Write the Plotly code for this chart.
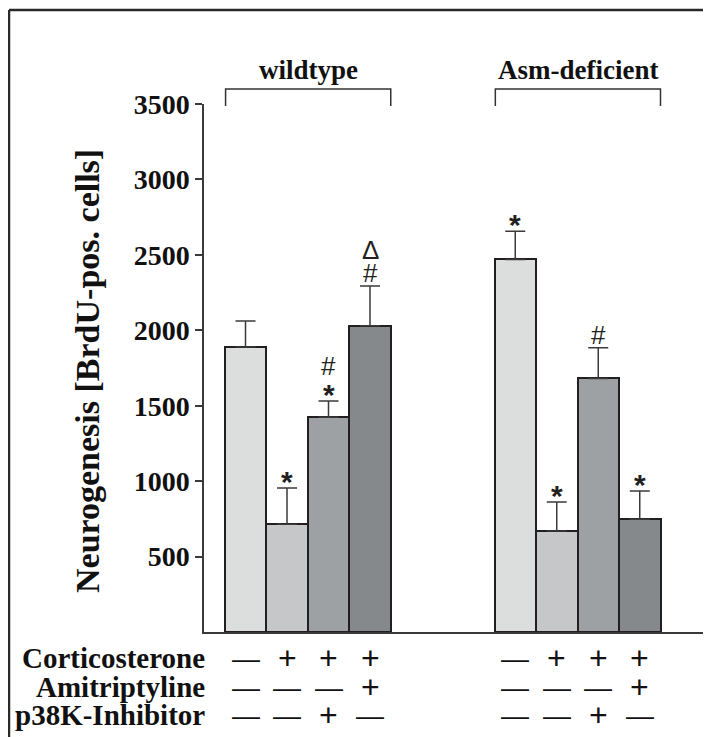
import plotly.graph_objects as go

# ---------------- data ----------------
groups = ["wildtype", "Asm-deficient"]
treatments = ["Control", "Corticosterone", "Corticosterone + p38K-Inhibitor", "Corticosterone + Amitriptyline"]
wt_values = [1890, 714, 1423, 2030]
wt_errors = [172, 240, 108, 263]
asm_values = [2470, 669, 1681, 747]
asm_errors = [187, 192, 203, 187]
wt_marks = [[], ["*"], ["*", "#"], ["#", "Δ"]]
asm_marks = [["*"], ["*"], ["#"], ["*"]]
row_labels = ["Corticosterone", "Amitriptyline", "p38K-Inhibitor"]
corticosterone = ["—", "+", "+", "+"]
amitriptyline = ["—", "—", "—", "+"]
p38k_inhibitor = ["—", "—", "+", "—"]
y_ticks = [500, 1000, 1500, 2000, 2500, 3000, 3500]
y_title = "Neurogenesis [BrdU-pos. cells]"

# ---------------- styling ----------------
OFF = 8                      # page body margin
W, H = 711 - OFF, 737 - OFF  # figure size so the page does not overflow
PX0, PX1, PY0, PY1 = 204, 708, 104, 632   # plot area in page pixels
L, R, T, B = PX0 - OFF, W - (PX1 - OFF), PY0 - OFF, H - (PY1 - OFF)
PW, PH = W - L - R, H - T - B
UNIT = 41.5  # px per bar slot
GROUP_OFFSET = 6.5
bar_colors = ["#dcdddd", "#c6c7c9", "#9ea1a4", "#86898c"]
ink = "#231f20"
serif = "Liberation Serif"
sans = "Liberation Sans"


def xp(px):
    return (px - OFF - L) / PW


def yp(py):
    return (H - B - (py - OFF)) / PH


group_values = [wt_values, asm_values]
group_errors = [wt_errors, asm_errors]
group_marks = [wt_marks, asm_marks]
table_rows = [corticosterone, amitriptyline, p38k_inhibitor]

xs, vals, errs, cols, names = [], [], [], [], []
for gi, g in enumerate(groups):
    for ti, t in enumerate(treatments):
        xs.append(gi * GROUP_OFFSET + ti + 1)
        vals.append(group_values[gi][ti])
        errs.append(group_errors[gi][ti])
        cols.append(bar_colors[ti])
        names.append(f"{g}: {t}")

fig = go.Figure()
fig.add_trace(go.Bar(
    x=xs, y=vals, width=1.0,
    marker=dict(color=cols, line=dict(color=ink, width=2)),
    error_y=dict(type="data", symmetric=False, array=errs, arrayminus=[0] * len(errs),
                 color="#3a3a3a", thickness=1.5, width=10),
    hovertext=names, showlegend=False,
))

annotations = []
shapes = []

# significance markers
mark_font = {"*": ("<b>*</b>", 30, -3), "#": ("#", 26, 3), "Δ": ("Δ", 26, 4)}
for gi in range(len(groups)):
    for ti in range(len(treatments)):
        x = gi * GROUP_OFFSET + ti + 1
        top = group_values[gi][ti] + group_errors[gi][ti]
        for k, m in enumerate(group_marks[gi][ti]):
            txt, size, adj = mark_font[m]
            annotations.append(dict(
                x=x, y=top, xref="x", yref="y", text=txt, showarrow=False,
                yanchor="middle", yshift=10 + 22 * k + adj,
                font=dict(family=sans, size=size, color=ink),
            ))

# group labels + brackets
for gi, g in enumerate(groups):
    x_first = gi * GROUP_OFFSET + 1
    x_last = gi * GROUP_OFFSET + len(treatments)
    x0, x1 = x_first - 0.48, x_last + 0.5
    y_top, y_leg = yp(89), yp(106)
    shapes.append(dict(type="path", xref="x", yref="paper",
                       path=f"M {x0} {y_leg} L {x0} {y_top} L {x1} {y_top} L {x1} {y_leg}",
                       line=dict(color="#333333", width=1.5)))
    annotations.append(dict(x=(x0 + x1) / 2, y=yp(70), xref="x", yref="paper", text=f"<b>{g}</b>",
                            showarrow=False, yanchor="middle",
                            font=dict(family=serif, size=27, color="#111111")))

# treatment table
row_y = [658, 687, 715]
for ri, lab in enumerate(row_labels):
    annotations.append(dict(x=xp(207), y=yp(row_y[ri]), xref="paper", yref="paper",
                            text=f"<b>{lab}</b>", showarrow=False, xanchor="right", yanchor="middle",
                            font=dict(family=serif, size=29, color="#111111")))
    for gi in range(len(groups)):
        for ti in range(len(treatments)):
            s = table_rows[ri][ti]
            annotations.append(dict(x=gi * GROUP_OFFSET + ti + 1, y=yp(row_y[ri]), xref="x", yref="paper",
                                    text=s, showarrow=False, yanchor="middle",
                                    font=dict(family=sans, size=32 if s == "+" else 28, color="#111111")))

# y title
annotations.append(dict(x=xp(88), y=yp(371), xref="paper", yref="paper", text=f"<b>{y_title}</b>",
                        textangle=-90, showarrow=False, xanchor="center", yanchor="middle",
                        font=dict(family=serif, size=34, color="#111111")))

# outer frame (top and left edges)
shapes.append(dict(type="line", xref="paper", yref="paper", x0=xp(9), y0=yp(10), x1=xp(730), y1=yp(10),
                   line=dict(color="#2a2a2a", width=2.5)))
shapes.append(dict(type="line", xref="paper", yref="paper", x0=xp(9), y0=yp(10), x1=xp(9), y1=yp(760),
                   line=dict(color="#2a2a2a", width=2.5)))

fig.update_layout(
    width=W, height=H,
    margin=dict(l=L, r=R, t=T, b=B),
    paper_bgcolor="white", plot_bgcolor="white",
    annotations=annotations, shapes=shapes,
    bargap=0,
)
fig.update_xaxes(range=[0, PW / UNIT], showgrid=False, zeroline=False, showticklabels=False,
                 ticks="", showline=True, linecolor="#3a3a3a", linewidth=2)
fig.update_yaxes(range=[0, 3500], tickvals=y_ticks, ticktext=[f"<b>{v}</b>" for v in y_ticks],
                 showgrid=False, zeroline=False, showline=True, linecolor="#3a3a3a", linewidth=1.5,
                 ticks="outside", ticklen=7, tickwidth=1.5, tickcolor="#3a3a3a",
                 tickfont=dict(family=serif, size=28, color="#111111"))

fig.write_html("out.html")
